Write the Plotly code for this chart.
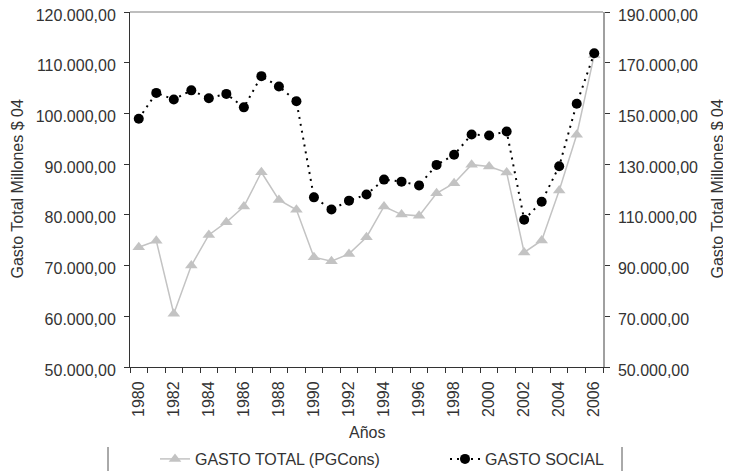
import plotly.graph_objects as go

years = list(range(1980, 2007))

# GASTO TOTAL (PGCons), left axis
gasto_total = [73600, 74900, 60500, 70000, 76050, 78550, 81650, 88400, 82950, 81000,
               71650, 70850, 72300, 75600, 81650, 80050, 79800, 84250, 86250, 89900,
               89550, 88350, 72600, 74950, 84800, 95800, 111500]

# GASTO SOCIAL, right axis
gasto_social = [147900, 158100, 155500, 159100, 156000, 157700, 152400, 164700, 160600, 154800,
                116900, 112100, 115600, 118000, 123900, 123100, 121600, 129700, 133700, 141700,
                141300, 142900, 108100, 115200, 129200, 153800, 173700]

year_labels = list(range(1980, 2007, 2))
left_ticks = list(range(50000, 120001, 10000))
right_ticks = list(range(50000, 190001, 20000))

FONT = "Liberation Sans, Arial, sans-serif"
TXT = "#333333"

# the page body adds an 8px offset, so the figure is laid out in its own pixels
W, H = 723, 463
L, T, B, R = 122, 4, 359, 595
PH, PW = B - T, R - L


def py(fig_y):
    return (B - fig_y) / PH


def px(fig_x):
    return (fig_x - L) / PW


fig = go.Figure()
fig.add_trace(go.Scatter(
    x=years, y=gasto_total, name="GASTO TOTAL (PGCons)", mode="lines+markers",
    line=dict(color="#c3c3c3", width=1.5),
    marker=dict(symbol="triangle-up", size=11, color="#c3c3c3"),
    legend="legend",
))
fig.add_trace(go.Scatter(
    x=years, y=gasto_social, name="GASTO SOCIAL", mode="lines+markers", yaxis="y2",
    line=dict(color="black", width=2, dash="2px,5px"),
    marker=dict(symbol="circle", size=10, color="black"),
    legend="legend2",
))

bounds = [y - 0.5 for y in range(1980, 2008)]
xr = [1979.5, 2006.5]

leg = dict(orientation="h", xanchor="left", y=py(451), yanchor="middle",
           font=dict(size=16, color=TXT), bgcolor="rgba(0,0,0,0)")

fig.update_layout(
    width=W, height=H,
    margin=dict(l=L, r=W - R, t=T, b=H - B, autoexpand=False),
    plot_bgcolor="white", paper_bgcolor="white",
    separators=",.",
    font=dict(family=FONT, size=16, color=TXT),
    showlegend=True,
    legend=dict(leg, x=px(147)),
    legend2=dict(leg, x=px(437)),
    xaxis=dict(range=xr, tickmode="array", tickvals=year_labels, ticks="",
               tickangle=-90, ticklabelstandoff=7, showline=True, linecolor="#333",
               linewidth=1, showgrid=False, zeroline=False,
               minor=dict(tickmode="array", tickvals=bounds, ticks="outside",
                          ticklen=5, tickcolor="#333", tickwidth=1)),
    xaxis2=dict(range=xr, overlaying="x", anchor="y", side="bottom",
                tickmode="array", tickvals=bounds, ticks="inside", ticklen=5,
                tickcolor="#333", showticklabels=False, showline=False,
                showgrid=False, zeroline=False),
    yaxis=dict(range=[50000, 120000], tickmode="array", tickvals=left_ticks,
               tickformat=",.2f", ticks="outside", ticklen=5, tickcolor="#333",
               ticklabelstandoff=5, ticklabelshift=3, ticklabeloverflow="allow",
               showline=True, linecolor="#333", linewidth=1,
               showgrid=False, zeroline=False),
    yaxis2=dict(range=[50000, 190000], overlaying="y", side="right", anchor="x",
                tickmode="array", tickvals=right_ticks, tickformat=",.2f",
                ticks="outside", ticklen=5, tickcolor="#333", ticklabelstandoff=5,
                ticklabelshift=3, ticklabeloverflow="allow",
                showline=True, linecolor="#a0a0a0", linewidth=1.5,
                showgrid=False, zeroline=False),
    yaxis3=dict(range=[50000, 120000], overlaying="y", side="left", anchor="x",
                tickmode="array", tickvals=left_ticks, ticks="inside", ticklen=5,
                tickcolor="#333", showticklabels=False, showline=False,
                showgrid=False, zeroline=False),
    yaxis4=dict(range=[50000, 190000], overlaying="y", side="right", anchor="x",
                tickmode="array", tickvals=right_ticks, ticks="inside", ticklen=5,
                tickcolor="#333", showticklabels=False, showline=False,
                showgrid=False, zeroline=False),
)

# top frame line and legend side bars
fig.add_shape(type="line", xref="paper", yref="paper", x0=0, x1=1, y0=1, y1=1,
              line=dict(color="#a8a8a8", width=1.5))
for xb in [100, 614]:
    fig.add_shape(type="line", xref="paper", yref="paper", x0=px(xb), x1=px(xb),
                  y0=py(439), y1=py(466), line=dict(color="#555", width=1))

fig.add_annotation(text="Gasto Total Millones $ 04", xref="paper", yref="paper",
                   x=px(9), y=0.5, xanchor="center", yanchor="middle",
                   textangle=-90, showarrow=False, font=dict(size=16, color=TXT))
fig.add_annotation(text="Gasto Total Millones $ 04", xref="paper", yref="paper",
                   x=px(709), y=0.5, xanchor="center", yanchor="middle",
                   textangle=-90, showarrow=False, font=dict(size=16, color=TXT))
fig.add_annotation(text="Años", xref="paper", yref="paper",
                   x=0.5, y=py(424), xanchor="center", yanchor="middle",
                   showarrow=False, font=dict(size=16, color=TXT))

fig.write_html("out.html")
